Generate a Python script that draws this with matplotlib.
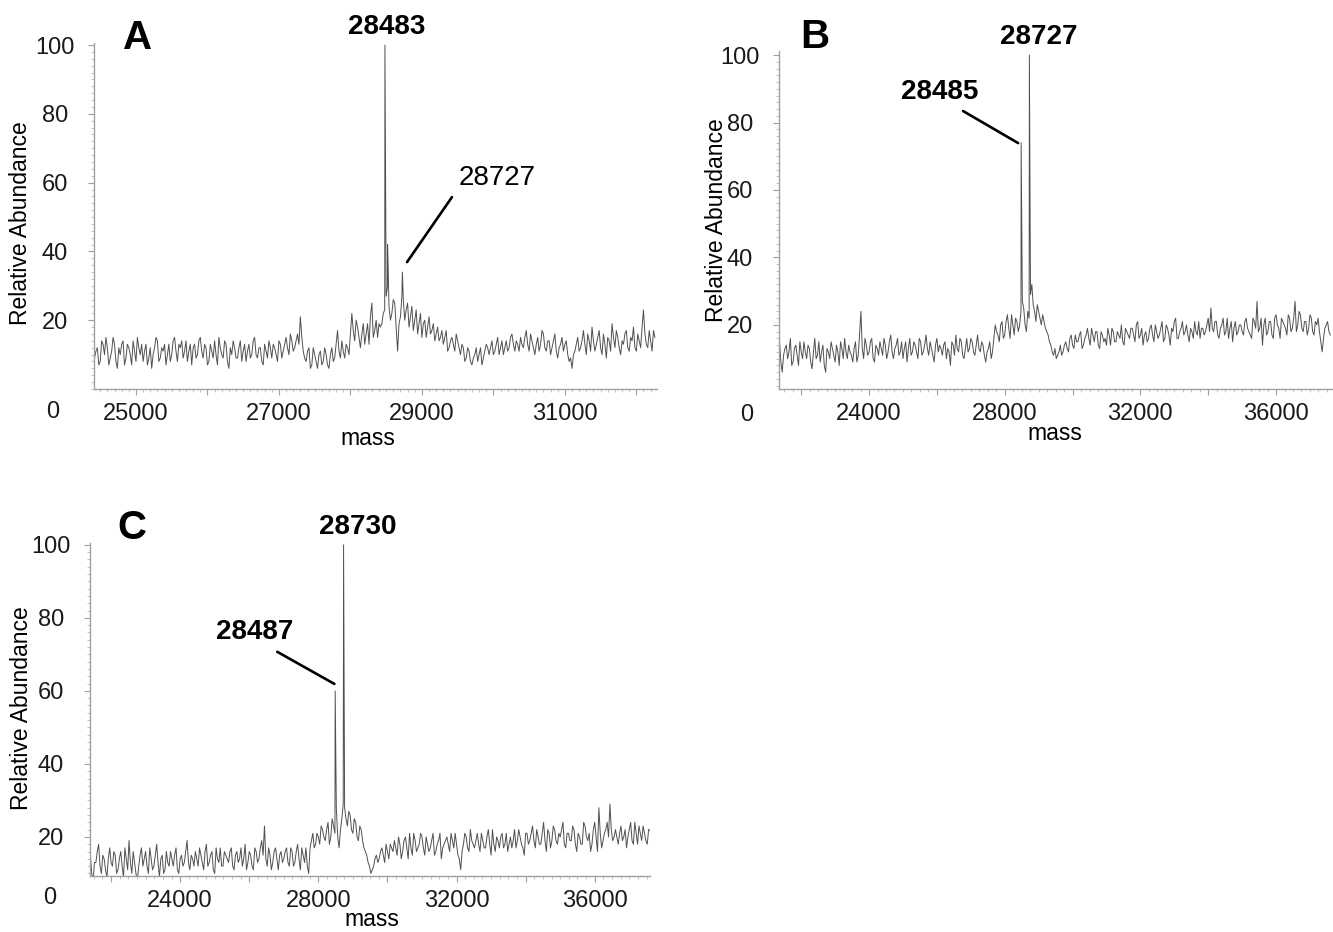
import numpy as np
import matplotlib
matplotlib.use("Agg")
import matplotlib.pyplot as plt
from matplotlib.ticker import MultipleLocator, FuncFormatter

plt.rcParams['font.family'] = ['Liberation Sans', 'DejaVu Sans']

# ---- panel A : read every 40 Da from 24420, plus in-between readings ----
a_start, a_step = 24420, 40
a_base = [
    9, 12, 8, 13, 15, 7, 11, 13, 6, 10,
    14, 9, 12, 7, 11, 15, 10, 8, 13, 9,
    6, 12, 14, 9, 11, 7, 13, 10, 15, 8,
    12, 9, 14, 11, 7, 13, 10, 15, 9, 12,
    8, 11, 14, 7, 12, 9, 13, 6, 10, 12,
    9, 14, 11, 8, 13, 10, 15, 9, 12, 7,
    11, 14, 9, 12, 8, 13, 11, 15, 10, 14,
    12, 16, 21, 11, 8, 12, 7, 10, 6, 11,
    8, 10, 6, 12, 9, 17, 9, 11, 13, 10,
    22, 14, 18, 12, 19, 16, 13, 25, 17, 15,
    18, 22, 27, 24, 22, 25, 11, 21, 26, 23,
    18, 24, 20, 16, 22, 19, 15, 21, 17, 14,
    18, 15, 13, 17, 12, 15, 11, 14, 10, 12,
    9, 11, 7, 10, 8, 12, 9, 13, 10, 14,
    11, 15, 12, 10, 14, 12, 16, 11, 13, 15,
    12, 17, 11, 14, 10, 15, 13, 16, 11, 14,
    12, 16, 9, 13, 11, 14, 8, 6, 11, 15,
    12, 17, 10, 14, 18, 11, 15, 12, 16, 9,
    14, 19, 12, 15, 10, 13, 17, 11, 14, 12,
    16, 12, 23, 13, 17, 11, 15,
]
a_mid = [
    11, 7, 14, 10, 12, 9, 15, 8, 12, 13,
    7, 13, 10, 14, 8, 12, 13, 11, 7, 12,
    10, 15, 8, 12, 13, 10, 8, 14, 11, 13,
    14, 11, 8, 13, 12, 9, 14, 11, 13, 7,
    13, 9, 10, 15, 10, 14, 8, 12, 14, 9,
    12, 8, 13, 11, 9, 14, 10, 12, 8, 13,
    9, 12, 13, 10, 14, 9, 13, 12, 16, 11,
    14, 13, 15, 9, 11, 6, 12, 8, 10, 7,
    12, 7, 10, 8, 13, 11, 14, 9, 12, 16,
    17, 20, 15, 16, 13, 19, 21, 15, 20, 19,
    19, 23, 30, 20, 26, 18, 19, 27, 20, 25,
    21, 17, 23, 19, 15, 20, 18, 16, 19, 16,
    14, 17, 15, 11, 14, 13, 16, 12, 13, 8,
    12, 8, 9, 12, 10, 7, 11, 12, 12, 10,
    13, 10, 14, 12, 11, 15, 13, 14, 11, 13,
    15, 13, 16, 12, 13, 11, 17, 12, 14, 10,
    14, 11, 12, 15, 13, 10, 9, 10, 13, 11,
    14, 13, 16, 11, 14, 13, 17, 10, 13, 15,
    11, 15, 17, 12, 14, 16, 12, 15, 18, 11,
    14, 18, 16, 12, 14, 17,
]
a_peak_mass = [28483, 28520, 28727]
a_peak_val = [100, 42, 34]

# ---- panel B : read every 80 Da from 21360, plus in-between readings ----
b_start, b_step = 21360, 80
b_base = [
    15, 6, 13, 10, 16, 9, 14, 8, 12, 15,
    10, 13, 7, 16, 11, 9, 14, 6, 12, 15,
    11, 14, 8, 13, 16, 10, 12, 9, 15, 11,
    24, 10, 14, 12, 16, 9, 13, 15, 11, 14,
    12, 17, 10, 14, 11, 15, 13, 9, 16, 12,
    14, 10, 15, 12, 17, 11, 13, 9, 16, 14,
    11, 15, 13, 8, 14, 17, 12, 15, 10, 16,
    13, 15, 11, 17, 12, 14, 9, 13, 10, 16,
    18, 15, 21, 17, 23, 16, 20, 22, 18, 24,
    25, 18, 22, 32, 24, 26, 22, 23, 19, 17,
    14, 11, 10, 12, 11, 14, 13, 16, 14, 17,
    15, 18, 14, 17, 16, 19, 15, 18, 13, 17,
    16, 19, 14, 18, 15, 17, 20, 14, 18, 16,
    19, 15, 21, 17, 14, 18, 16, 20, 15, 18,
    17, 21, 16, 19, 14, 18, 22, 16, 19, 17,
    20, 15, 18, 21, 17, 16, 19, 18, 22, 25,
    18, 21, 16, 20, 17, 22, 19, 15, 21, 18,
    20, 17, 22, 18, 16, 21, 27, 19, 14, 22,
    18, 21, 16, 23, 19, 22, 20, 17, 22, 19,
    27, 20, 23, 18, 21, 19, 22, 17, 20, 18,
    12, 19, 21, 17,
]
b_mid = [
    9, 11, 14, 12, 8, 13, 11, 15, 10, 12,
    14, 9, 12, 10, 15, 12, 8, 13, 10, 13,
    9, 12, 15, 10, 12, 14, 11, 13, 9, 17,
    13, 16, 11, 15, 10, 14, 11, 13, 16, 10,
    15, 12, 13, 16, 12, 10, 15, 13, 11, 15,
    12, 16, 11, 14, 13, 15, 11, 14, 12, 13,
    14, 10, 12, 15, 11, 13, 16, 11, 13, 12,
    16, 12, 14, 13, 15, 11, 12, 15, 12, 20,
    17, 20, 16, 21, 19, 23, 17, 21, 20, 27,
    20, 24, 29, 26, 21, 24, 20, 21, 18, 15,
    12, 13, 11, 14, 12, 15, 12, 17, 13, 15,
    17, 13, 16, 19, 14, 17, 18, 14, 18, 15,
    14, 17, 19, 15, 18, 16, 15, 19, 17, 19,
    17, 20, 16, 19, 17, 15, 19, 17, 20, 16,
    19, 15, 20, 17, 19, 21, 16, 18, 21, 18,
    17, 19, 16, 18, 21, 19, 17, 20, 18, 19,
    21, 17, 19, 22, 18, 16, 21, 19, 17, 20,
    18, 21, 19, 17, 22, 19, 18, 22, 20, 17,
    21, 17, 22, 20, 16, 21, 19, 23, 18, 22,
    18, 24, 19, 21, 17, 23, 18, 21, 22, 15,
    16, 20, 18,
]
b_peak_mass = [28485, 28727]
b_peak_val = [74, 100]

# ---- panel C : read every 80 Da from 21400, plus in-between readings ----
c_start, c_step = 21400, 80
c_base = [
    15, 8, 13, 18, 10, 14, 9, 17, 12, 15,
    11, 16, 9, 14, 19, 10, 13, 8, 15, 12,
    16, 10, 14, 12, 18, 9, 15, 11, 13, 16,
    12, 17, 10, 15, 13, 19, 11, 14, 16, 12,
    15, 11, 18, 13, 16, 10, 14, 17, 12, 15,
    13, 17, 11, 16, 14, 12, 18, 13, 15, 11,
    16, 14, 19, 23, 12, 15, 13, 17, 11, 16,
    14, 17, 12, 16, 13, 18, 11, 15, 17, 10,
    19, 17, 21, 18, 22, 19, 24, 20, 23, 28,
    17, 25, 28, 23, 26, 21, 24, 19, 22, 17,
    15, 12, 11, 14, 13, 16, 15, 18, 14, 17,
    19, 15, 18, 16, 20, 14, 17, 21, 16, 18,
    20, 15, 18, 17, 21, 16, 19, 14, 18, 20,
    16, 19, 21, 15, 11, 18, 20, 16, 19, 17,
    21, 16, 19, 17, 22, 15, 18, 20, 17, 21,
    18, 16, 20, 19, 17, 22, 18, 15, 21, 19,
    23, 17, 20, 18, 24, 16, 21, 19, 22, 18,
    20, 24, 17, 21, 19, 22, 16, 20, 18, 23,
    19, 16, 22, 20, 28, 17, 21, 24, 29, 19,
    22, 18, 23, 20, 17, 22, 19, 24, 18, 21,
    23, 19, 22, 20,
]
c_mid = [
    10, 13, 16, 12, 15, 11, 14, 13, 16, 10,
    14, 12, 17, 11, 13, 16, 10, 12, 17, 14,
    12, 17, 11, 15, 13, 14, 10, 16, 12, 14,
    15, 11, 14, 12, 16, 13, 15, 12, 14, 17,
    13, 16, 12, 15, 11, 17, 13, 12, 16, 14,
    16, 12, 15, 13, 17, 14, 11, 16, 12, 17,
    13, 17, 15, 14, 17, 11, 16, 14, 15, 13,
    16, 13, 17, 12, 16, 14, 17, 13, 12, 17,
    21, 18, 20, 23, 20, 22, 18, 25, 21, 20,
    22, 29, 25, 27, 22, 25, 20, 23, 19, 16,
    13, 10, 12, 15, 14, 17, 13, 16, 18, 16,
    17, 20, 14, 19, 17, 21, 15, 19, 17, 21,
    17, 20, 16, 19, 15, 18, 21, 17, 19, 18,
    21, 17, 18, 14, 16, 21, 17, 22, 18, 19,
    18, 21, 17, 20, 18, 22, 16, 19, 20, 17,
    21, 18, 17, 22, 19, 20, 17, 21, 18, 21,
    19, 22, 18, 21, 19, 22, 17, 23, 19, 21,
    22, 18, 21, 19, 23, 18, 21, 18, 24, 20,
    21, 18, 24, 16, 21, 19, 22, 20, 22, 20,
    20, 21, 19, 22, 20, 24, 18, 21, 23, 19,
    21, 18, 22,
]
c_peak_mass = [28487, 28730]
c_peak_val = [60, 100]

y_ticks = [20, 40, 60, 80, 100]
a_xlabels = [25000, 27000, 29000, 31000]
bc_xlabels = [24000, 28000, 32000, 36000]

W, H = 1333, 932
fig = plt.figure(figsize=(W / 100, H / 100), dpi=100)


def px_axes(l, t, r, b):
    return fig.add_axes([l / W, 1 - b / H, (r - l) / W, (b - t) / H])


def ftext(x, y, s, **kw):
    fig.text(x / W, 1 - y / H, s, ha='center', va='center', **kw)


def trace(start, step, base, mid, pk_m, pk_v):
    m0 = start + step * np.arange(len(base))
    m1 = start + step / 2 + step * np.arange(len(mid))
    m = np.concatenate([m0, m1, pk_m])
    v = np.concatenate([base, mid, pk_v])
    o = np.argsort(m)
    return m[o], v[o]


def style(ax, xlim, ylim, xmaj, xmin, xlabels):
    ax.set_xlim(*xlim)
    ax.set_ylim(*ylim)
    for s in ['top', 'right']:
        ax.spines[s].set_visible(False)
    for s in ['left', 'bottom']:
        ax.spines[s].set_color('#a0a0a0')
        ax.spines[s].set_linewidth(1.0)
    ax.xaxis.set_major_locator(MultipleLocator(xmaj))
    ax.xaxis.set_minor_locator(MultipleLocator(xmin))
    ax.xaxis.set_major_formatter(FuncFormatter(
        lambda v, p: f'{v:.0f}' if round(v) in xlabels else ''))
    ax.set_yticks(y_ticks, [str(t) for t in y_ticks], ha='center')
    ax.yaxis.set_minor_locator(MultipleLocator(2))
    ax.tick_params(which='major', length=4, width=0.8, color='#a0a0a0',
                   labelsize=17, labelcolor='#1a1a1a')
    ax.tick_params(which='minor', length=2, width=0.6, color='#b8b8b8')
    ax.tick_params(axis='y', which='major', pad=24)
    ax.tick_params(axis='x', which='major', pad=6)


line_kw = dict(color='#505050', lw=0.7)
lead_kw = dict(arrowstyle='-', lw=1.9, color='black', shrinkA=0, shrinkB=0)

# ---------- A ----------
ax = px_axes(94, 43, 657, 389)
m, v = trace(a_start, a_step, a_base, a_mid, a_peak_mass, a_peak_val)
ax.plot(m, v, **line_kw)
style(ax, (24413, 32289), (0, 100.6), 1000, 100, a_xlabels)
ax.text(28505, 105.2, '28483', ha='center', va='center', fontsize=20,
        fontweight='bold', clip_on=False)
ax.text(30051, 61.3, '28727', ha='center', va='center', fontsize=20)
ax.annotate('', xy=(28792, 36.9), xytext=(29421, 55.8), arrowprops=lead_kw)
ftext(138, 38, 'A', fontsize=29, fontweight='bold')
ftext(53, 412, '0', fontsize=17, color='#1a1a1a')
ftext(368, 438, 'mass', fontsize=16.5)
ftext(21, 223, 'Relative Abundance', fontsize=16.5, rotation=90)

# ---------- B ----------
ax = px_axes(779, 51, 1332, 389)
m, v = trace(b_start, b_step, b_base, b_mid, b_peak_mass, b_peak_val)
ax.plot(m, v, **line_kw)
style(ax, (21345, 37650), (1.0, 101.2), 2000, 250, bc_xlabels)
ax.text(29015, 105.3, '28727', ha='center', va='center', fontsize=20,
        fontweight='bold', clip_on=False)
ax.text(26095, 89, '28485', ha='center', va='center', fontsize=20,
        fontweight='bold')
ax.annotate('', xy=(28396, 73.9), xytext=(26773, 83.4), arrowprops=lead_kw)
ftext(815, 37, 'B', fontsize=29, fontweight='bold')
ftext(747, 415, '0', fontsize=17, color='#1a1a1a')
ftext(1055, 434, 'mass', fontsize=16.5)
ftext(716, 220, 'Relative Abundance', fontsize=16.5, rotation=90)

# ---------- C ----------
ax = px_axes(90, 543, 650, 876)
m, v = trace(c_start, c_step, c_base, c_mid, c_peak_mass, c_peak_val)
ax.plot(m, v, **line_kw)
style(ax, (21390, 37600), (9.3, 100.5), 2000, 250, bc_xlabels)
ax.text(29131, 104.9, '28730', ha='center', va='center', fontsize=20,
        fontweight='bold', clip_on=False)
ax.text(26144, 76.2, '28487', ha='center', va='center', fontsize=20,
        fontweight='bold')
ax.annotate('', xy=(28464, 61.9), xytext=(26811, 70.7), arrowprops=lead_kw)
ftext(132, 528, 'C', fontsize=29, fontweight='bold')
ftext(50, 898, '0', fontsize=17, color='#1a1a1a')
ftext(372, 920, 'mass', fontsize=16.5)
ftext(22, 708, 'Relative Abundance', fontsize=16.5, rotation=90)

fig.savefig('out.png', dpi=100, facecolor='white')
